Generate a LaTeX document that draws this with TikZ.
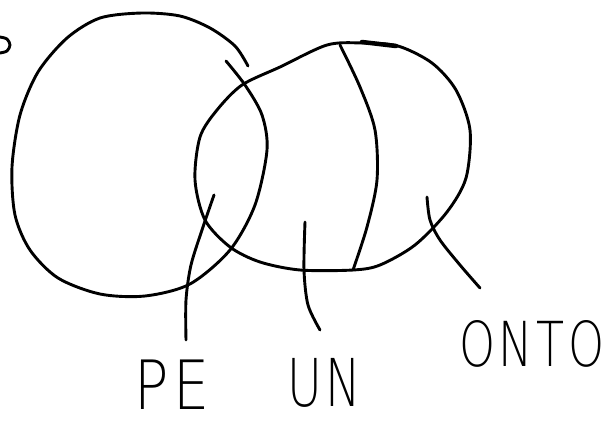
\documentclass[tikz,border=0pt]{standalone}
\usepackage{fontspec}
\newfontfamily\hand{DejaVuSans-ExtraLight.ttf}
\begin{document}
\begin{tikzpicture}[x=1pt,y=-1pt,
  pen/.style={line width=2.9pt,line cap=round,line join=round},
  lbl/.style={inner sep=0pt,font=\hand}]
\useasboundingbox (0,0) rectangle (606,426);
% small partial letter at top-left
\draw[pen] plot[smooth] coordinates {(0,37) (7,39) (10,45) (7,51) (0,53)};
% left circle
\draw[pen] plot[smooth] coordinates {(248,66) (235,46) (210,28) (180,16) (142,13) (100,18) (67,38) (38,72) (20,115) (12,167) (15,215) (30,250) (58,278) (100,294) (145,296) (190,284) (230,250) (255,205) (267,150) (262,115) (245,85) (226,61)};
% right blob
\draw[pen] plot[smooth cycle] coordinates {(327,45) (362,43) (398,46) (432,63) (456,90) (470,130) (466,178) (447,212) (415,245) (380,265) (353,270) (300,270) (260,262) (230,247) (205,220) (195,180) (200,137) (217,110) (242,85) (280,67)};
\draw[line width=4.5pt,line cap=round] (362,42) -- (396,46);
% divider
\draw[pen] plot[smooth] coordinates {(340,45) (360,87) (375,130) (377,180) (367,227) (353,270)};
% pointers
\coordinate (pe1) at (214,195); \coordinate (pe2) at (186,340);
\coordinate (un1) at (305,222); \coordinate (un2) at (320,330);
\coordinate (on1) at (427,197); \coordinate (on2) at (480,288);
\draw[pen] plot[smooth] coordinates {(pe1) (203,227) (191,265) (186,300) (pe2)};
\draw[pen] plot[smooth] coordinates {(un1) (304,270) (308,305) (un2)};
\draw[pen] plot[smooth] coordinates {(on1) (430,220) (440,240) (460,265) (on2)};
% labels
\node[lbl,xscale=0.84] (pe) at (172,385) {\fontsize{68}{68}\selectfont P\hspace{6pt}E};
\node[lbl,xscale=0.72] (un) at (324,383) {\fontsize{66}{66}\selectfont U\hspace{4pt}N};
\node[lbl,xscale=0.74] (onto) at (532,344) {\fontsize{62}{62}\selectfont O\hspace{5pt}N\hspace{5pt}T\hspace{5pt}O};
\end{tikzpicture}
\end{document}
